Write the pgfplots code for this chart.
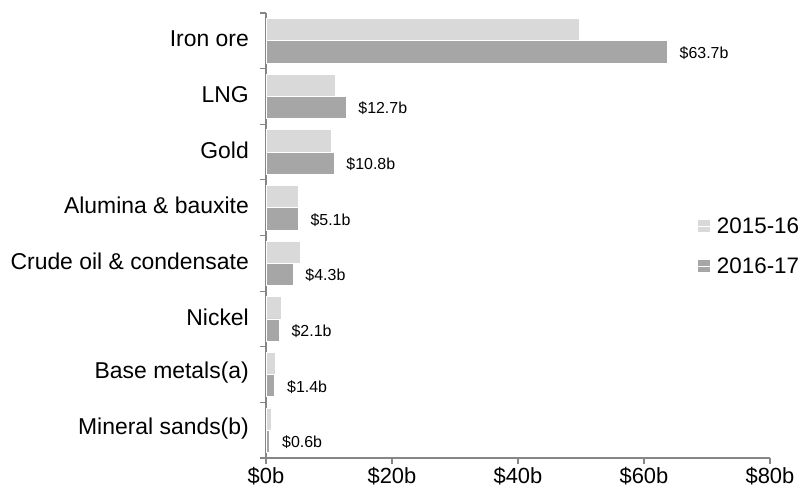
\documentclass[border=0pt]{standalone}
\usepackage{fontspec}
\setmainfont{Liberation Sans}
\usepackage{pgfplots}
\pgfplotsset{compat=1.18}
\definecolor{barlight}{HTML}{D9D9D9}
\definecolor{bardark}{HTML}{A6A6A6}
\definecolor{axisgray}{HTML}{868686}

\begin{document}
\begin{tikzpicture}
\useasboundingbox (0,0) rectangle (798bp,489bp);
\begin{axis}[
    at={(266bp,31bp)}, anchor=south west,
    width=504bp, height=445bp, scale only axis,
    xbar, bar width=0.4,
    xmin=0, xmax=80, ymin=-0.5, ymax=7.5,
    axis x line*=bottom, axis y line*=left,
    axis line style={draw=axisgray, line width=1.2bp, -},
    tick style={draw=axisgray, line width=1.2bp},
    tick align=outside, major tick length=6bp,
    /pgf/number format/assume math mode=true,
    xtick={0,20,40,60,80},
    xticklabel={\$\pgfmathprintnumber{\tick}b},
    xticklabel style={font=\fontsize{22}{26}\selectfont, inner sep=0pt, yshift=-3.5bp},
    ytick={-0.5,0.5,...,7.5}, yticklabels={},
    extra y ticks={0,1,2,3,4,5,6,7},
    extra y tick labels={Mineral sands(b),Base metals(a),Nickel,Crude oil \& condensate,Alumina \& bauxite,Gold,LNG,Iron ore},
    extra y tick style={major tick length=0pt,
        yticklabel style={font=\fontsize{23}{27}\selectfont, inner sep=0pt, anchor=east, xshift=-17bp, yshift=2bp}},
    legend style={draw=none, fill=none, at={(rel axis cs:0.855,0.476)}, anchor=west,
        font=\fontsize{22.5}{27}\selectfont, row sep=19bp, inner sep=0pt},
    legend cell align=left,
    legend image code/.code={\fill[#1,draw=none] (0bp,-6bp) rectangle (12bp,6bp);
        \path (0bp,0bp) -- (17bp,0bp);},
]
% 2015-16
\addplot[fill=barlight, draw=white, line width=0.8bp, bar shift=0.2] coordinates {
    (0.8,0) (1.5,1) (2.4,2) (5.4,3) (5.2,4) (10.4,5) (10.95,6) (49.7,7)
};
% 2016-17
\addplot[fill=bardark, draw=white, line width=0.8bp, bar shift=-0.2,
    point meta=x, nodes near coords,
    nodes near coords={\$\pgfmathprintnumber[fixed,fixed zerofill,precision=1]{\pgfplotspointmeta}b},
    nodes near coords style={anchor=west, inner sep=0pt, xshift=12bp, yshift=-1bp,
        font=\fontsize{16}{18}\selectfont, text=black}] coordinates {
    (0.6,0) (1.4,1) (2.1,2) (4.3,3) (5.1,4) (10.8,5) (12.7,6) (63.7,7)
};
\legend{2015-16,2016-17}
\end{axis}
\end{tikzpicture}
\end{document}
